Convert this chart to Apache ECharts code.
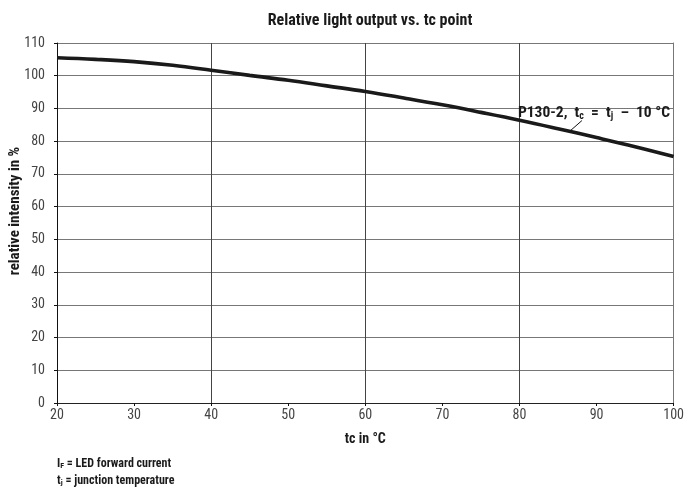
<!DOCTYPE html>
<html>
<head>
<meta charset="utf-8">
<script src="https://cdn.jsdelivr.net/npm/echarts@6/dist/echarts.min.js"></script>
<style>
html,body{margin:0;padding:0;background:#fff;}
#c{width:687px;height:492px;}
</style>
</head>
<body>
<div id="c"></div>
<script>
var tcValues = [20, 25, 30, 35, 40, 45, 50, 55, 60, 65, 70, 75, 80, 85, 90, 95, 100];
var intensity = [105.5, 105.0, 104.3, 103.2, 101.7, 100.1, 98.6, 96.9, 95.2, 93.2, 91.1, 88.8, 86.4, 83.8, 81.1, 78.3, 75.3];
var yTicks = [0, 10, 20, 30, 40, 50, 60, 70, 80, 90, 100, 110];
var xTicks = [20, 30, 40, 50, 60, 70, 80, 90, 100];
var titleText = 'Relative light output vs. tc point';
var xName = 'tc in °C';
var yName = 'relative intensity in %';
var labelAnchor = [79.8, 88.6];
var leader = [[88.1, 86.3], [86.6, 83.2]];

var FONT = '"Liberation Sans Narrow", "Roboto Condensed", Arial, sans-serif';
var chart = echarts.init(document.getElementById('c'), null, {renderer: 'canvas'});
var data = tcValues.map(function (t, i) { return [t, intensity[i]]; });

chart.setOption({
  animation: false,
  backgroundColor: '#fff',
  title: {
    text: titleText, left: 365, top: 8, textAlign: 'center',
    textStyle: {fontFamily: FONT, fontSize: 16, fontWeight: 'bold', color: '#1a1a1a'}
  },
  grid: {left: 57, right: 11, top: 43, bottom: 89, show: false},
  xAxis: [{
    type: 'value', min: xTicks[0], max: xTicks[xTicks.length - 1], interval: 10,
    name: xName, nameLocation: 'middle', nameGap: 29,
    nameTextStyle: {fontFamily: FONT, fontSize: 14, fontWeight: 'bold', color: '#1a1a1a'},
    axisLine: {show: true, lineStyle: {color: '#111', width: 1}},
    axisTick: {show: true, length: 3, lineStyle: {color: '#111'}},
    axisLabel: {fontFamily: FONT, fontSize: 14, color: '#444', margin: 5},
    splitLine: {show: false}
  }, {
    type: 'value', min: xTicks[0], max: xTicks[xTicks.length - 1], interval: 20,
    position: 'top',
    axisLine: {show: true, lineStyle: {color: '#222', width: 1}},
    axisTick: {show: false}, axisLabel: {show: false},
    splitLine: {show: true, lineStyle: {color: '#444', width: 1}}
  }],
  yAxis: [{
    type: 'value', min: yTicks[0], max: yTicks[yTicks.length - 1], interval: 10,
    axisLine: {show: true, lineStyle: {color: '#111', width: 1}},
    axisTick: {show: true, length: 3, lineStyle: {color: '#111'}},
    axisLabel: {fontFamily: FONT, fontSize: 14, color: '#444', margin: 12},
    splitLine: {show: true, lineStyle: {color: '#777', width: 1}}
  }, {
    type: 'value', min: yTicks[0], max: yTicks[yTicks.length - 1], interval: 110,
    position: 'right',
    axisLine: {show: true, lineStyle: {color: '#777', width: 1}},
    axisTick: {show: false}, axisLabel: {show: false}, splitLine: {show: false}
  }],
  series: [{
    type: 'line', xAxisIndex: 0, yAxisIndex: 0,
    data: data, smooth: 0.4, symbol: 'none',
    lineStyle: {color: '#1a1a1a', width: 3.6},
    markLine: {
      silent: true, symbol: ['none', 'none'],
      lineStyle: {color: '#111', width: 1, type: 'solid'},
      label: {show: false},
      data: [[{coord: leader[0]}, {coord: leader[1]}]]
    },
    markPoint: {
      silent: true, symbol: 'circle', symbolSize: 0,
      data: [{coord: labelAnchor}],
      label: {
        show: true, position: 'right', distance: 0,
        formatter: 'P130-2,  t{s|c}  =  t{s|j}  –  10 °C',
        fontFamily: FONT, fontSize: 15.5, fontWeight: 'bold', color: '#1a1a1a',
        rich: {s: {fontFamily: FONT, fontSize: 10, fontWeight: 'bold', color: '#1a1a1a', padding: [7, 0, 0, 0]}}
      }
    }
  }, {
    type: 'line', xAxisIndex: 1, yAxisIndex: 1, data: [], symbol: 'none'
  }],
  graphic: [{
    type: 'text', x: 15, y: 211, rotation: Math.PI / 2,
    style: {
      text: yName, fontFamily: FONT, fontSize: 15, fontWeight: 'bold', fill: '#1a1a1a',
      align: 'center', verticalAlign: 'middle'
    }
  }, {
    type: 'text', left: 57, top: 455,
    style: {
      text: 'I{s|F} = LED forward current\nt{s|j} = junction temperature',
      fontFamily: FONT, fontSize: 12, fontWeight: 'bold', fill: '#1a1a1a', lineHeight: 17,
      rich: {s: {fontFamily: FONT, fontSize: 8, fontWeight: 'bold', fill: '#1a1a1a', padding: [5, 0, 0, 0]}}
    }
  }]
});
</script>
</body>
</html>
